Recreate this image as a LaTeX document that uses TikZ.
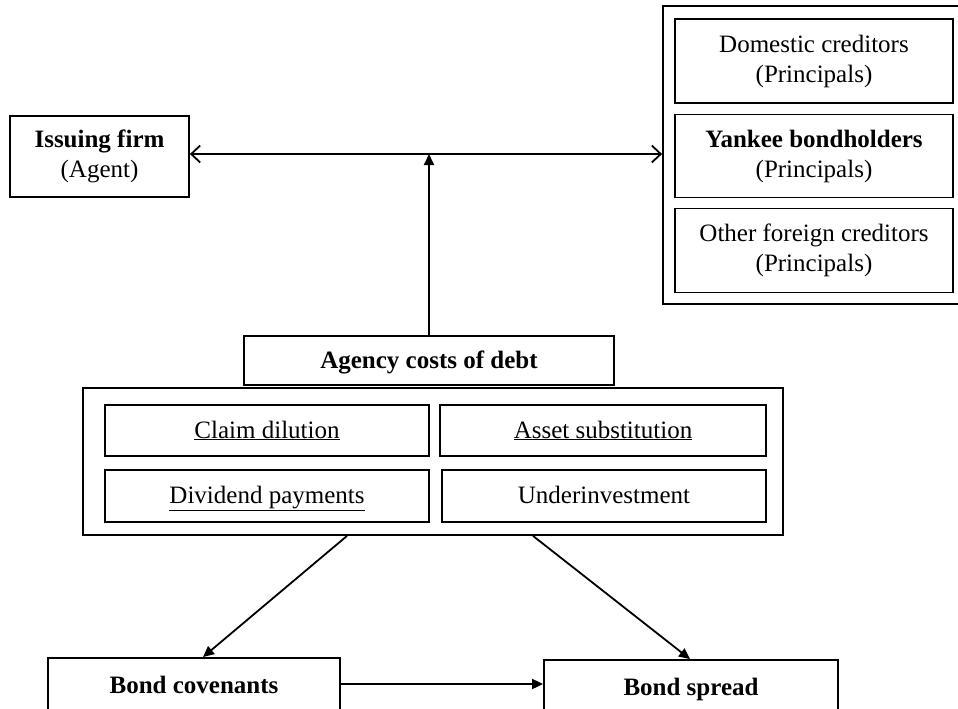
\documentclass[tikz,border=0pt]{standalone}
\usepackage{fontspec}
\setmainfont{Liberation Serif}
\usetikzlibrary{arrows.meta}
\begin{document}
\begin{tikzpicture}[x=1pt,y=-1pt,
  box/.style={draw, line width=1.8pt, inner sep=0pt, align=center,
    font=\fontsize{25}{30}\selectfont},
  one/.style={text height=18pt, text depth=3pt},
  frame/.style={draw, line width=1.8pt, inner sep=0pt},
  link/.style={line width=1.8pt, -{Triangle[length=11pt,width=10pt]}},
  open/.style={line width=1.8pt, {Straight Barb[length=9pt,width=17pt]}-{Straight Barb[length=9pt,width=17pt]}}]
\useasboundingbox (0,0) rectangle (958,709);
\clip (0,0) rectangle (958,709);
% top left
\node[box, minimum width=179pt, minimum height=81pt] (firm) at (99.5,156.5)
  {\textbf{Issuing firm}\\(Agent)};
% creditors
\node[frame, minimum width=302pt, minimum height=298pt] (cred) at (814,155) {};
\node[box, minimum width=278pt, minimum height=84pt] (dom) at (814,61)
  {Domestic creditors\\(Principals)};
\node[box, minimum width=278pt, minimum height=83pt] (yank) at (814,156)
  {\textbf{Yankee bondholders}\\(Principals)};
\node[box, minimum width=278pt, minimum height=84pt] (oth) at (814,250.5)
  {Other foreign creditors\\(Principals)};
% agency
\node[box, one, minimum width=370pt, minimum height=49pt] (agency) at (429,360.5)
  {\textbf{Agency costs of debt}};
\node[frame, minimum width=700pt, minimum height=147pt] (big) at (433,461.5) {};
\node[box, one, minimum width=324pt, minimum height=51pt] (claim) at (267,430.5)
  {\underline{Claim dilution}};
\node[box, one, minimum width=326pt, minimum height=51pt] (asset) at (603,430.5)
  {\underline{Asset substitution}};
\node[box, one, minimum width=324pt, minimum height=52pt] (div) at (267,496)
  {\underline{Dividend payments}};
\node[box, one, minimum width=324pt, minimum height=52pt] (under) at (604,496)
  {Underinvestment};
% bottom
\node[box, one, minimum width=292pt, minimum height=56pt] (cov) at (194,686)
  {\textbf{Bond covenants}};
\node[box, one, minimum width=294pt, minimum height=56pt] (spread) at (691,688)
  {\textbf{Bond spread}};
% connectors
\coordinate (h) at (429,154);
\draw[open] (firm.east |- h) -- (cred.west |- h);
\draw[link] (agency.north) -- (h);
\draw[link] ([xshift=-86pt]big.south) -- ([xshift=9pt]cov.north);
\draw[link] ([xshift=100pt]big.south) -- ([xshift=-1pt]spread.north);
\draw[link] (cov.east |- 0,684) -- (spread.west |- 0,684);
\end{tikzpicture}
\end{document}
